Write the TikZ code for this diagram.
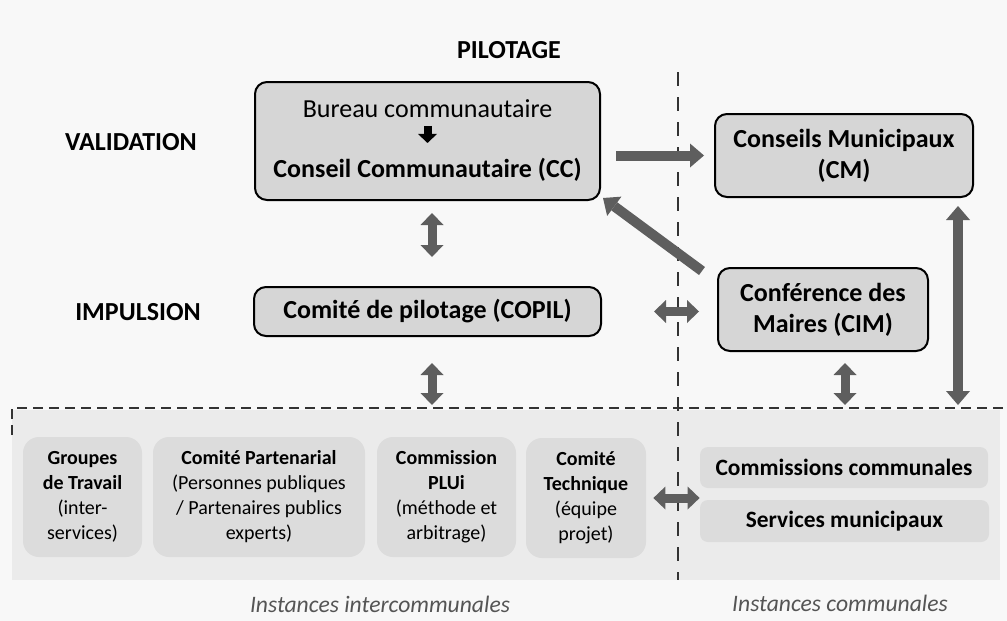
\documentclass[tikz,border=0pt]{standalone}
\usepackage{fontspec}
\setmainfont{Carlito}
\usetikzlibrary{arrows.meta}
\definecolor{pagebg}{HTML}{F8F8F8}
\definecolor{bandgray}{HTML}{EBEBEB}
\definecolor{lowgray}{HTML}{DCDCDC}
\definecolor{boxgray}{HTML}{D6D6D6}
\definecolor{arrowgray}{HTML}{5E5E5E}
\definecolor{capgray}{HTML}{555555}
\tikzset{
  topbox/.style={draw=black, line width=1pt, rounded corners=6pt, fill=boxgray, align=center, inner sep=0pt},
  lowbox/.style={fill=lowgray, rounded corners=8pt, align=center, inner sep=0pt, font=\fontsize{10}{12.5}\selectfont},
  combox/.style={fill=lowgray, rounded corners=4pt, inner sep=0pt, font=\bfseries\fontsize{11.7}{13}\selectfont},
  bigarrow/.style={draw=arrowgray, line width=5pt, -{Triangle[length=7pt,width=12pt,line width=0pt]}},
  bothway/.style={draw=arrowgray, line width=4.5pt, {Triangle[length=6pt,width=11.5pt,line width=0pt]}-{Triangle[length=6pt,width=11.5pt,line width=0pt]}},
  hcut/.style={draw=black!80, line width=0.8pt, dash pattern=on 5pt off 3pt},
  vcut/.style={draw=black!80, line width=0.8pt, dash pattern=on 7pt off 5.5pt},
  level/.style={font=\bfseries\fontsize{13}{15.5}\selectfont},
  caption/.style={font=\itshape\fontsize{11.8}{13}\selectfont, text=capgray}
}
\begin{document}
\begin{tikzpicture}[x=0.5pt,y=-0.5pt,font=\fontsize{13}{15.5}\selectfont]
\useasboundingbox[fill=pagebg] (0,0) rectangle (1007,621);
\fill[bandgray] (12,410) rectangle (1000,580);
\draw[hcut] (12,435) -- (12,408) -- (1007,408);
\draw[vcut] (678,72) -- (678,580);

\node[level] (pilotage) at (509,50) {PILOTAGE};
\node[level] (validation) at (131,142) {VALIDATION};
\node[level] (impulsion) at (138,312) {IMPULSION};

\node[topbox, minimum width=172.5pt, minimum height=59pt] (cc) at (427.5,141)
  {Bureau communautaire\\[-1pt]
   \tikz\draw[black, line width=4pt, -{Triangle[length=4.5pt,width=9.5pt,line width=0pt]}] (0,0) -- (0,-8.5pt);\\[0pt]
   \textbf{Conseil Communautaire (CC)}};
\node[topbox, minimum width=129pt, minimum height=41.5pt, font=\bfseries\fontsize{13}{15.5}\selectfont] (cm) at (844,155.5)
  {Conseils Municipaux\\(CM)};
\node[topbox, minimum width=173.5pt, minimum height=24.5pt, font=\bfseries\fontsize{13}{15.5}\selectfont] (copil) at (427.5,311.5)
  {Comité de pilotage (COPIL)};
\node[topbox, minimum width=105pt, minimum height=41.5pt, font=\bfseries\fontsize{13}{15.5}\selectfont] (cim) at (823,309.5)
  {Conférence des\\Maires (CIM)};

\node[lowbox, minimum width=59.5pt, minimum height=60pt] (groupes) at (82.5,497)
  {\textbf{Groupes}\\\textbf{de Travail}\\(inter-\\services)};
\node[lowbox, minimum width=106pt, minimum height=60pt] (partenarial) at (259,497)
  {\textbf{Comité Partenarial}\\(Personnes publiques\\/ Partenaires publics\\experts)};
\node[lowbox, minimum width=69.5pt, minimum height=60pt] (plui) at (446.5,497)
  {\textbf{Commission}\\\textbf{PLUi}\\(méthode et\\arbitrage)};
\node[lowbox, minimum width=60pt, minimum height=60pt] (technique) at (586,498)
  {\textbf{Comité}\\\textbf{Technique}\\(équipe\\projet)};
\node[combox, minimum width=144pt, minimum height=20.5pt] (commissions) at (844,467.5) {Commissions communales};
\node[combox, minimum width=144.5pt, minimum height=21pt] (services) at (844.5,521) {Services municipaux};

\node[caption] (interlabel) at (380,604) {Instances intercommunales};
\node[caption] (communelabel) at (840,603) {Instances communales};

\coordinate (copilfoot) at (432,408);
\coordinate (cimfoot) at (845,408);
\coordinate (cmfoot) at (958,408);

\draw[bigarrow, shorten <=7.5pt, shorten >=5pt] (cc.east |- cm.west) -- (cm.west);
\draw[bigarrow] ([shift={(-15,4)}]cim.north west) -- ([shift={(2,-3)}]cc.south east);
\draw[bothway, shorten <=6pt, shorten >=14.5pt] ([xshift=2.25pt]cc.south) -- ([xshift=2.25pt]copil.north);
\draw[bothway, shorten <=13pt, shorten >=1.5pt] (copilfoot |- copil.south) -- (copilfoot);
\draw[bothway, shorten <=26pt, shorten >=9pt] (copil.east) -- (copil.east -| cim.west);
\draw[bothway, shorten <=5.5pt, shorten >=1.5pt] (cimfoot |- cim.south) -- (cimfoot);
\draw[bigarrow, {Triangle[length=7pt,width=12pt,line width=0pt]}-{Triangle[length=7pt,width=12pt,line width=0pt]}, shorten <=4pt, shorten >=1.5pt] (cmfoot |- cm.south) -- (cmfoot);
\draw[bothway, shorten <=3.5pt] (technique.east) -- (technique.east -| services.west);
\end{tikzpicture}
\end{document}
